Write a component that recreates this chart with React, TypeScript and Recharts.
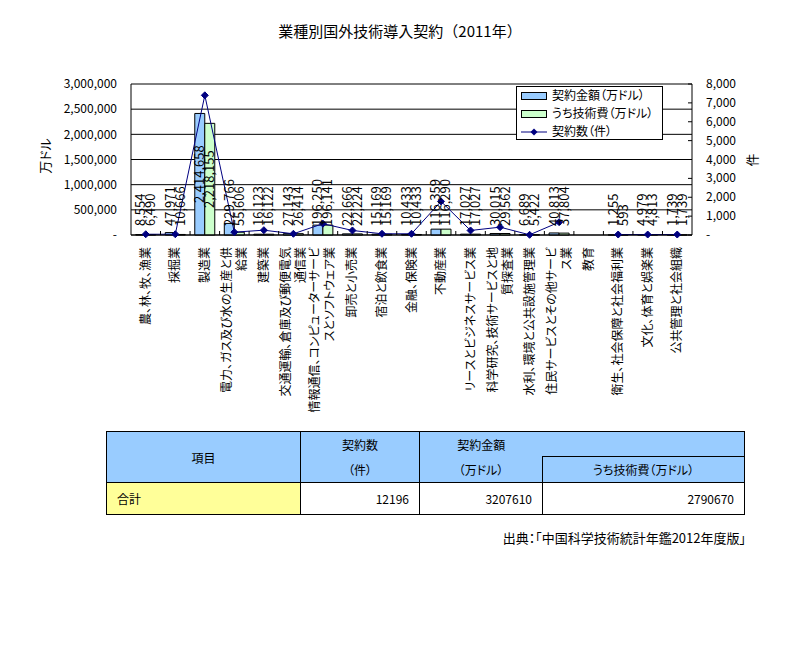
import React from "react";
import {
  Bar,
  CartesianGrid,
  ComposedChart,
  LabelList,
  Line,
  XAxis,
  YAxis,
} from "recharts";

const CATEGORIES = [
  "農、林、牧、漁業",
  "採掘業",
  "製造業",
  "電力、ガス及び水の生産と供\n給業",
  "建築業",
  "交通運輸、倉庫及び郵便電気\n通信業",
  "情報通信、コンピューターサービ\nスとソフトウェア業",
  "卸売と小売業",
  "宿泊と飲食業",
  "金融、保険業",
  "不動産業",
  "リースとビジネスサービス業",
  "科学研究、技術サービスと地\n質探査業",
  "水利、環境と公共設施管理業",
  "住民サービスとその他サービ\nス業",
  "教育",
  "衛生、社会保障と社会福利業",
  "文化、体育と娯楽業",
  "公共管理と社会組織",
];

// 契約金額（万ドル）
const AMOUNT = [
  8554, 47971, 2414658, 229766, 16123, 27143, 196250, 22666, 15169, 10433,
  116359, 17027, 30015, 6689, 40813, null, 1255, 4979, 1739,
];
// うち技術費（万ドル）
const TECH_FEE = [
  6490, 10666, 2218155, 55606, 16122, 26414, 196141, 22224, 15169, 10433,
  116290, 17027, 29562, 5422, 37804, null, 593, 4813, 1739,
];
// 契約数（件）
const CONTRACTS = [
  40, 40, 7400, 150, 255, 64, 600, 240, 64, 64, 1780, 240, 415, 10, 680, null,
  25, 25, 25,
];

const LEFT_TICKS = [0, 500000, 1000000, 1500000, 2000000, 2500000, 3000000];
const RIGHT_TICKS = [0, 1000, 2000, 3000, 4000, 5000, 6000, 7000, 8000];

const TOTAL_CONTRACTS = 12196;
const TOTAL_AMOUNT = 3207610;
const TOTAL_TECH = 2790670;

const BLUE = "#99CCFF";
const GREEN = "#CCFFCC";
const NAVY = "#000080";
const FONT = '"Noto Sans CJK JP", "Noto Sans", sans-serif';

const PLOT_LEFT = 131;
const PLOT_RIGHT = 692;
const BAND = (PLOT_RIGHT - PLOT_LEFT) / CATEGORIES.length;

const fmt = (v: number) => (v === 0 ? "-" : v.toLocaleString("en-US"));

const data = CATEGORIES.map((name, i) => ({
  name,
  amount: AMOUNT[i],
  tech: TECH_FEE[i],
  count: CONTRACTS[i],
}));

function CategoryTick(props: any) {
  const { x, y, payload, index } = props;
  const lines = String(payload.value).split("\n");
  const axisY = y - 8;
  const top = axisY + 12;
  return (
    <g>
      {index < CATEGORIES.length - 1 && (
        <line
          x1={x + BAND / 2}
          x2={x + BAND / 2}
          y1={axisY - 4}
          y2={axisY}
          stroke="#000"
        />
      )}
      <text
        transform={`translate(${x},${top}) rotate(-90)`}
        textAnchor="end"
        fontSize={12}
        fill="#000"
      >
        {lines.map((l, i) => (
          <tspan key={i} x={0} y={(i - (lines.length - 1) / 2) * 15 + 4}>
            {l}
          </tspan>
        ))}
      </text>
    </g>
  );
}

function RightTick(props: any) {
  const { x, y, payload } = props;
  const ax = x - 14;
  return (
    <g>
      <line x1={ax - 4} x2={ax} y1={y} y2={y} stroke="#000" />
      <text x={x} y={y + 4} fontSize={12} fill="#000" textAnchor="start">
        {fmt(payload.value)}
      </text>
    </g>
  );
}

function BarValueLabel(props: any) {
  const { x, y, width, height, value } = props;
  if (value == null) return null;
  const text = fmt(Number(value));
  const digits = text.replace(/,/g, "").length;
  const commas = text.length - digits;
  const len = digits * 7.2 + commas * 3.6;
  const cx = Number(x) + Number(width) / 2;
  const base = Number(y) + Number(height);
  const cy = Number(y) + Number(height) / 2;
  const bottom = Math.min(cy + len / 2, base - 9);
  return (
    <text
      transform={`translate(${cx},${bottom}) rotate(-90)`}
      x={0}
      y={4.5}
      textAnchor="start"
      fontSize={13}
      fill="#000"
    >
      {text}
    </text>
  );
}

function Diamond(props: any) {
  const { cx, cy, value } = props;
  if (value == null || cx == null || cy == null) return null;
  const r = 3.5;
  return (
    <polygon
      points={`${cx},${cy - r} ${cx + r},${cy} ${cx},${cy + r} ${cx - r},${cy}`}
      fill={NAVY}
      stroke={NAVY}
    />
  );
}

const hdr: React.CSSProperties = {
  border: "1px solid #000",
  background: BLUE,
  textAlign: "center",
  padding: 0,
};
const num: React.CSSProperties = {
  border: "1px solid #000",
  background: "#fff",
  textAlign: "right",
  paddingRight: 10,
};

export default function App() {
  return (
    <div
      style={{
        position: "absolute",
        left: 0,
        top: 0,
        width: 800,
        height: 650,
        background: "#fff",
        fontFamily: FONT,
        fontFeatureSettings: '"palt"',
        color: "#000",
      }}
    >
      <div
        style={{
          position: "absolute",
          left: 0,
          top: 21,
          width: 800,
          textAlign: "center",
          fontSize: 15,
          lineHeight: "20px",
          fontFeatureSettings: "normal",
        }}
      >
        業種別国外技術導入契約（2011年）
      </div>

      <div style={{ position: "absolute", left: 0, top: 0 }}>
        <ComposedChart
          width={800}
          height={420}
          data={data}
          margin={{ top: 84, right: 0, bottom: 0, left: 0 }}
          barGap={0}
          barCategoryGap="16%"
        >
          <CartesianGrid
            yAxisId="left"
            vertical={false}
            stroke="#000"
            strokeOpacity={1}
          />
          <XAxis
            dataKey="name"
            interval={0}
            height={185}
            tickSize={6}
            tickMargin={2}
            tickLine={false}
            axisLine={{ stroke: "#000" }}
            tick={<CategoryTick />}
          />
          <YAxis
            yAxisId="left"
            width={131}
            domain={[0, 3000000]}
            ticks={LEFT_TICKS}
            interval={0}
            tickFormatter={fmt}
            tickLine={false}
            tickSize={8}
            tickMargin={6}
            axisLine={{ stroke: "#000" }}
            tick={{ fill: "#000", fontSize: 12 }}
          />
          <YAxis
            yAxisId="right"
            orientation="right"
            width={108}
            domain={[0, 8000]}
            ticks={RIGHT_TICKS}
            interval={0}
            tickLine={false}
            tickSize={8}
            tickMargin={6}
            axisLine={{ stroke: "#000" }}
            tick={<RightTick />}
          />
          <Bar
            yAxisId="left"
            dataKey="amount"
            fill={BLUE}
            stroke="#000"
            strokeWidth={1}
            isAnimationActive={false}
          >
            <LabelList dataKey="amount" content={<BarValueLabel />} />
          </Bar>
          <Bar
            yAxisId="left"
            dataKey="tech"
            fill={GREEN}
            stroke="#000"
            strokeWidth={1}
            isAnimationActive={false}
          >
            <LabelList dataKey="tech" content={<BarValueLabel />} />
          </Bar>
          <Line
            yAxisId="right"
            dataKey="count"
            type="linear"
            stroke={NAVY}
            strokeWidth={1}
            dot={<Diamond />}
            activeDot={false}
            connectNulls={false}
            isAnimationActive={false}
          />
        </ComposedChart>
      </div>

      <svg
        width={800}
        height={650}
        style={{ position: "absolute", left: 0, top: 0, pointerEvents: "none" }}
      >
        <text
          transform="translate(45,156) rotate(-90)"
          textAnchor="middle"
          y={4.5}
          fontSize={13}
        >
          万ドル
        </text>
        <text
          transform="translate(752,160) rotate(-90)"
          textAnchor="middle"
          y={4.5}
          fontSize={13}
        >
          件
        </text>

        <rect x={516.5} y={86.5} width={146} height={53} fill="#fff" stroke="#000" />
        <rect x={521.5} y={92.5} width={25} height={7} fill={BLUE} stroke="#000" />
        <text x={552} y={100} fontSize={12}>
          契約金額（万ドル）
        </text>
        <rect x={521.5} y={110.5} width={25} height={7} fill={GREEN} stroke="#000" />
        <text x={552} y={118} fontSize={12}>
          うち技術費（万ドル）
        </text>
        <line x1={521} x2={547} y1={132} y2={132} stroke={NAVY} />
        <polygon points="534,128.5 537.5,132 534,135.5 530.5,132" fill={NAVY} />
        <text x={552} y={136} fontSize={12}>
          契約数（件）
        </text>
      </svg>

      <table
        style={{
          position: "absolute",
          left: 106,
          top: 431,
          width: 638,
          borderCollapse: "collapse",
          tableLayout: "fixed",
          fontSize: 12,
        }}
      >
        <colgroup>
          <col style={{ width: 194 }} />
          <col style={{ width: 119 }} />
          <col style={{ width: 123 }} />
          <col style={{ width: 202 }} />
        </colgroup>
        <tbody>
          <tr style={{ height: 25 }}>
            <td rowSpan={2} style={hdr}>
              項目
            </td>
            <td rowSpan={2} style={{ ...hdr, lineHeight: "25px" }}>
              契約数
              <br />
              （件）
            </td>
            <td style={{ ...hdr, borderRight: "none", borderBottom: "none" }}>
              契約金額
            </td>
            <td style={{ ...hdr, borderLeft: "none" }}></td>
          </tr>
          <tr style={{ height: 26 }}>
            <td style={{ ...hdr, borderTop: "none" }}>（万ドル）</td>
            <td style={hdr}>うち技術費（万ドル）</td>
          </tr>
          <tr style={{ height: 32 }}>
            <td
              style={{
                border: "1px solid #000",
                background: "#FFFF99",
                paddingLeft: 10,
              }}
            >
              合計
            </td>
            <td style={num}>{TOTAL_CONTRACTS}</td>
            <td style={num}>{TOTAL_AMOUNT}</td>
            <td style={num}>{TOTAL_TECH}</td>
          </tr>
        </tbody>
      </table>

      <div
        style={{
          position: "absolute",
          left: 0,
          top: 529,
          width: 746,
          textAlign: "right",
          fontSize: 13,
          lineHeight: "18px",
        }}
      >
        出典：「中国科学技術統計年鑑2012年度版」
      </div>
    </div>
  );
}
